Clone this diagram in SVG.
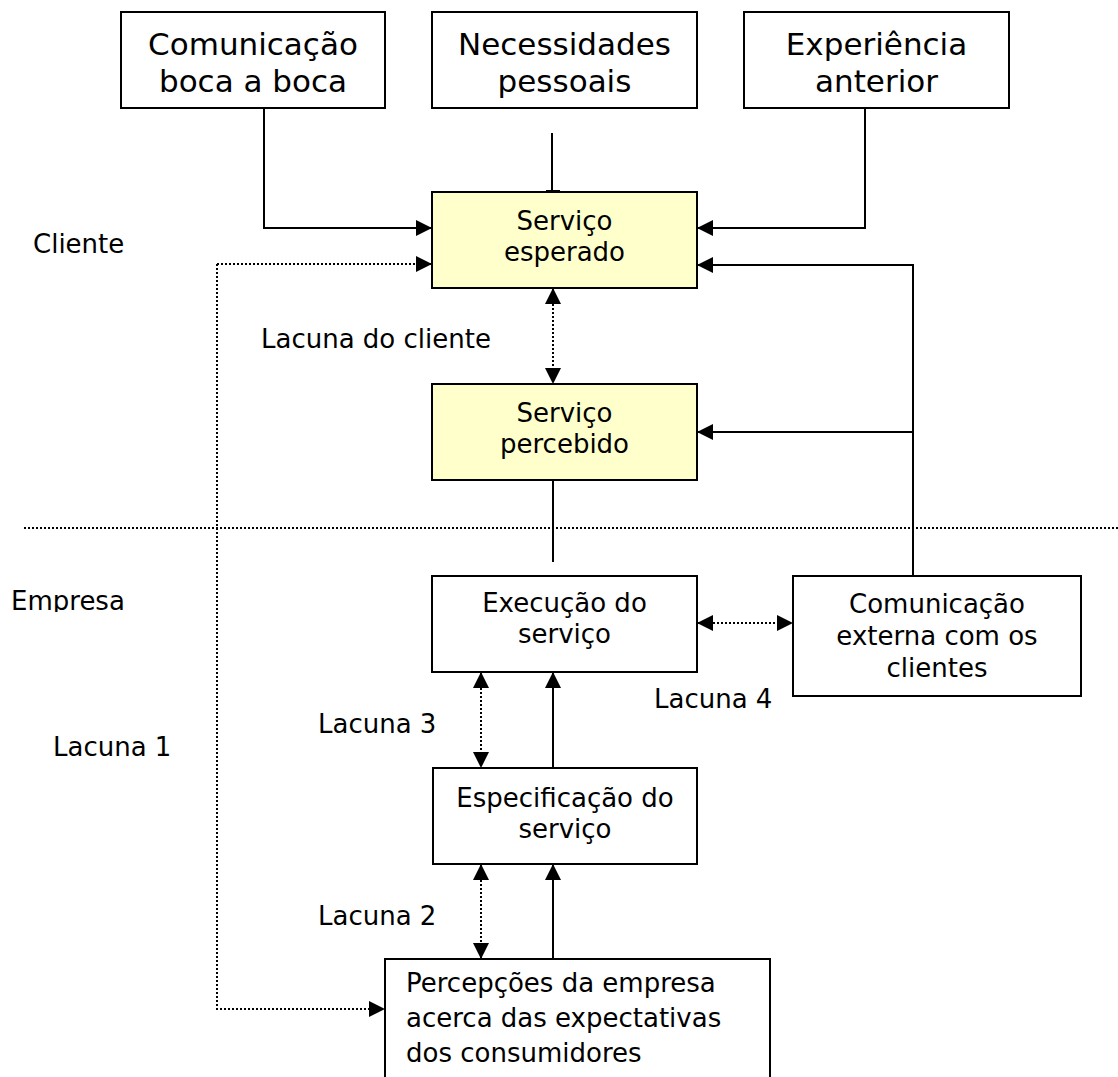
<svg xmlns="http://www.w3.org/2000/svg" width="1118" height="1077" viewBox="0 0 1118 1077">
<style>
.box{fill:#fff;stroke:#000;stroke-width:2}
.yel{fill:#ffffcc;stroke:#000;stroke-width:2}
.t{font-family:"DejaVu Sans",Verdana,sans-serif;font-size:26px;fill:#000}
.big{font-size:31px}
.c{text-anchor:middle}
.ln{fill:none;stroke:#000;stroke-width:2}
.dot{fill:none;stroke:#000;stroke-width:2;stroke-dasharray:2 2}
</style>
<defs>
<marker id="ah" markerUnits="userSpaceOnUse" markerWidth="16" markerHeight="16" refX="16" refY="8" orient="auto-start-reverse" viewBox="0 0 16 16">
<path d="M0,0 L16,8 L0,16 z" fill="#000"/>
</marker>
<clipPath id="clipE"><rect x="0" y="560" width="300" height="52"/></clipPath>
</defs>

<g id="labels">
<text class="t" x="33" y="253">Cliente</text>
<text class="t" x="11" y="610" clip-path="url(#clipE)">Empresa</text>
<text class="t" x="53" y="756">Lacuna 1</text>
<text class="t" x="261" y="348">Lacuna do cliente</text>
<text class="t" x="318" y="733">Lacuna 3</text>
<text class="t" x="318" y="925">Lacuna 2</text>
<text class="t" x="654" y="708">Lacuna 4</text>
</g>

<g id="connectors">
<line class="dot" x1="24" y1="528" x2="1118" y2="528"/>
<polyline class="ln" points="264,108 264,228 432,228" marker-end="url(#ah)"/>
<line class="ln" x1="552" y1="133" x2="552" y2="192"/>
<line class="ln" x1="546" y1="191" x2="560" y2="191"/>
<polyline class="ln" points="865,108 865,228 697,228" marker-end="url(#ah)"/>
<polyline class="ln" points="913,576 913,265 697,265" marker-end="url(#ah)"/>
<line class="ln" x1="913" y1="432" x2="697" y2="432" marker-end="url(#ah)"/>
<polyline class="dot" points="217,264 217,1009 385,1009" marker-end="url(#ah)"/>
<line class="dot" x1="217" y1="264" x2="432" y2="264" marker-end="url(#ah)"/>
<line class="dot" x1="553" y1="288" x2="553" y2="384" marker-start="url(#ah)" marker-end="url(#ah)"/>
<line class="ln" x1="553" y1="480" x2="553" y2="562"/>
<line class="dot" x1="697" y1="623" x2="793" y2="623" marker-start="url(#ah)" marker-end="url(#ah)"/>
<line class="dot" x1="481" y1="672" x2="481" y2="768" marker-start="url(#ah)" marker-end="url(#ah)"/>
<line class="ln" x1="553" y1="768" x2="553" y2="672" marker-end="url(#ah)"/>
<line class="dot" x1="481" y1="864" x2="481" y2="959" marker-start="url(#ah)" marker-end="url(#ah)"/>
<line class="ln" x1="553" y1="959" x2="553" y2="864" marker-end="url(#ah)"/>
</g>

<g id="boca">
<rect class="box" x="121" y="12" width="264" height="96"/>
<text class="t big c" x="253" y="55">Comunicação</text>
<text class="t big c" x="253" y="92">boca a boca</text>
</g>
<g id="necessidades">
<rect class="box" x="432" y="12" width="265" height="96"/>
<text class="t big c" x="564.5" y="55">Necessidades</text>
<text class="t big c" x="564.5" y="92">pessoais</text>
</g>
<g id="experiencia">
<rect class="box" x="744" y="12" width="265" height="96"/>
<text class="t big c" x="876.5" y="55">Experiência</text>
<text class="t big c" x="876.5" y="92">anterior</text>
</g>
<g id="esperado">
<rect class="yel" x="432" y="192" width="265" height="96"/>
<text class="t c" x="564.5" y="230">Serviço</text>
<text class="t c" x="564.5" y="261">esperado</text>
</g>
<g id="percebido">
<rect class="yel" x="432" y="384" width="265" height="96"/>
<text class="t c" x="564.5" y="422">Serviço</text>
<text class="t c" x="564.5" y="453">percebido</text>
</g>
<g id="execucao">
<rect class="box" x="432" y="576" width="265" height="96"/>
<text class="t c" x="564.5" y="612">Execução do</text>
<text class="t c" x="564.5" y="643">serviço</text>
</g>
<g id="comexterna">
<rect class="box" x="793" y="576" width="288" height="120"/>
<text class="t c" x="937" y="613">Comunicação</text>
<text class="t c" x="937" y="645">externa com os</text>
<text class="t c" x="937" y="677">clientes</text>
</g>
<g id="especificacao">
<rect class="box" x="433" y="768" width="264" height="96"/>
<text class="t c" x="565" y="807">Especificação do</text>
<text class="t c" x="565" y="838">serviço</text>
</g>
<g id="percepcoes">
<rect class="box" x="385" y="959" width="385" height="140"/>
<text class="t" x="406" y="992">Percepções da empresa</text>
<text class="t" x="406" y="1027">acerca das expectativas</text>
<text class="t" x="406" y="1062">dos consumidores</text>
</g>
</svg>
